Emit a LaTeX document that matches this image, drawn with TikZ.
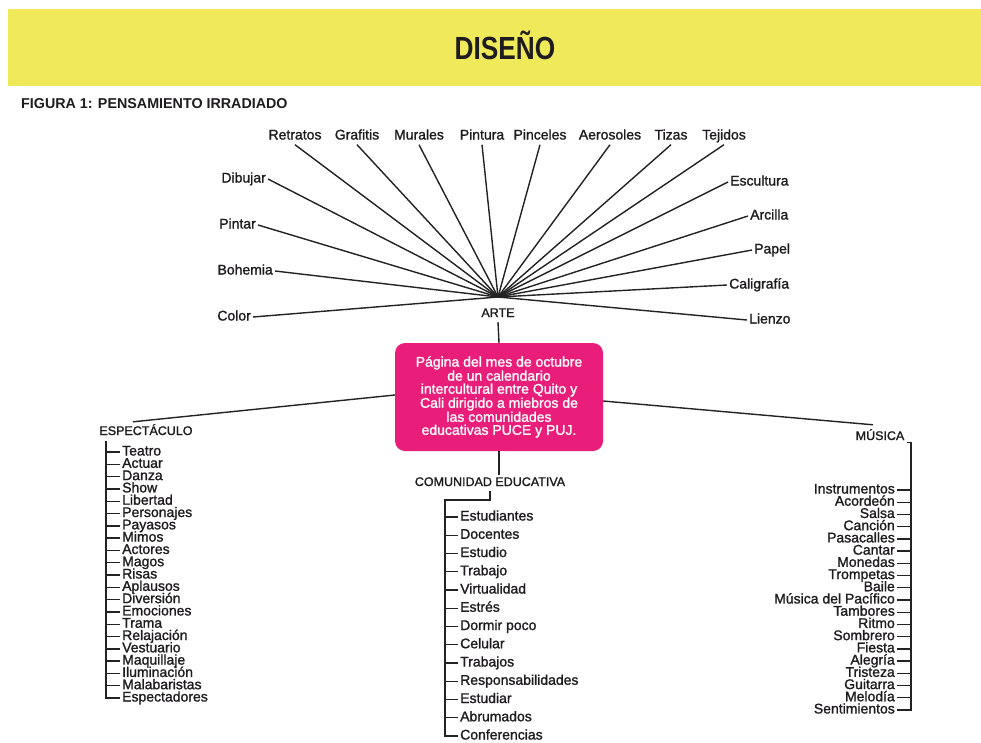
\documentclass[tikz,border=0pt]{standalone}
\usepackage{fontspec}
\setmainfont{Liberation Sans}
\newfontfamily\semi{Liberation Sans}[FakeBold=1.3]
\usepackage{graphicx}
\usepackage{tikz}
\definecolor{banner}{RGB}{240,233,90}
\definecolor{rosa}{RGB}{232,30,122}
\definecolor{tinta}{RGB}{30,28,30}
\definecolor{trazo}{RGB}{35,35,35}

\begin{document}
\begin{tikzpicture}[x=1pt,y=-1pt,
   word/.style={inner xsep=2pt, inner ysep=2pt, text height=10pt, text depth=3pt,
      font=\semi\fontsize{14}{13}\selectfont, text=tinta},
   head/.style={inner xsep=2pt, inner ysep=2pt, text height=9pt, text depth=3pt,
      font=\semi\fontsize{12.5}{13}\selectfont, text=tinta},
   link/.style={draw=trazo, line width=1.4pt},
   card/.style={fill=rosa, rounded corners=10pt, minimum width=208pt, minimum height=108pt,
      inner sep=0pt, align=center, text=white, font=\semi\fontsize{14}{13}\selectfont}]

   \fill[white] (0,0) rectangle (981,742);
   \useasboundingbox (0,0) rectangle (981,742);

   \fill[banner] (8,9) rectangle (981,86);
   \node[inner sep=0pt, text height=23pt, text depth=0pt, text=tinta] (titulo) at (505,48)
      {\scalebox{0.82}[1]{\fontsize{32}{32}\selectfont\bfseries DISEÑO}};
   \node[anchor=west, inner sep=0pt, text=tinta, font=\fontsize{14.3}{14}\selectfont\bfseries] (figura) at (21,104)
      {FIGURA 1: PENSAMIENTO IRRADIADO};

   \coordinate (hub) at (498,297);
   \node[head] (arte) at (498,314) {ARTE};

   \foreach \t/\x [count=\i] in {Retratos/295,Grafitis/357,Murales/419,Pintura/482,
         Pinceles/540,Aerosoles/610,Tizas/671,Tejidos/724} {
      \node[word] (t\i) at (\x,136) {\t};
      \draw[link] (t\i.south) -- (hub);
   }
   \foreach \t/\x/\y [count=\i] in {Dibujar/268/179,Pintar/258/225,Bohemia/275/271,Color/253/317} {
      \node[word, anchor=east] (l\i) at (\x,\y) {\t};
      \draw[link] (l\i.east) -- (hub);
   }
   \foreach \t/\x/\y [count=\i] in {Escultura/728/182,Arcilla/748/216,Papel/752/250,
         Caligrafía/727/285,Lienzo/747/320} {
      \node[word, anchor=west] (r\i) at (\x,\y) {\t};
      \draw[link] (r\i.west) -- (hub);
   }

   \node[card] (card) at (499,397) {Página del mes de octubre\\de un calendario\\intercultural entre Quito y\\Cali dirigido a miebros de\\las comunidades\\educativas PUCE y PUJ.};
   \draw[link] (arte.south) -- (card.north);

   \node[head] (espect) at (146,432) {ESPECTÁCULO};
   \node[head] (comu) at (490,483) {COMUNIDAD EDUCATIVA};
   \node[head] (musica) at (880,437) {MÚSICA};

   \draw[link] ([yshift=2pt]card.west) -- ([xshift=-13pt,yshift=2pt]espect.north);
   \draw[link] ([yshift=-4pt]card.east) -- ([xshift=-7pt,yshift=4pt]musica.north);
   \draw[link] (card.south) -- (card.south |- comu.north);

   \coordinate (lspine) at (106,441);
   \foreach \t [count=\i] in {Teatro,Actuar,Danza,Show,Libertad,Personajes,Payasos,Mimos,
         Actores,Magos,Risas,Aplausos,Diversión,Emociones,Trama,Relajación,Vestuario,
         Maquillaje,Iluminación,Malabaristas,Espectadores}
      \node[word, anchor=west] (e\i) at (120,{452+12.3*(\i-1)}) {\t};
   \draw[link] (lspine) |- (e21.west);
   \foreach \i in {1,...,20}
      \draw[link] (e\i.west) -- (e\i.west -| lspine);

   \coordinate (cspine) at (445,500);
   \foreach \t [count=\i] in {Estudiantes,Docentes,Estudio,Trabajo,Virtualidad,Estrés,
         Dormir poco,Celular,Trabajos,Responsabilidades,Estudiar,Abrumados,Conferencias}
      \node[word, anchor=west] (c\i) at (458,{517+18.25*(\i-1)}) {\t};
   \draw[link] (comu.south) |- (cspine) |- (c13.west);
   \foreach \i in {1,...,12}
      \draw[link] (c\i.west) -- (c\i.west -| cspine);

   \coordinate (rspine) at (911,441);
   \foreach \t [count=\i] in {Instrumentos,Acordeón,Salsa,Canción,Pasacalles,Cantar,Monedas,
         Trompetas,Baile,Música del Pacífico,Tambores,Ritmo,Sombrero,Fiesta,Alegría,
         Tristeza,Guitarra,Melodía,Sentimientos}
      \node[word, anchor=east] (m\i) at (897,{490+12.22*(\i-1)}) {\t};
   \draw[link] ([yshift=3pt]musica.south east) -| (m19.east -| rspine) -- (m19.east);
   \foreach \i in {1,...,18}
      \draw[link] (m\i.east) -- (m\i.east -| rspine);

\end{tikzpicture}
\end{document}
